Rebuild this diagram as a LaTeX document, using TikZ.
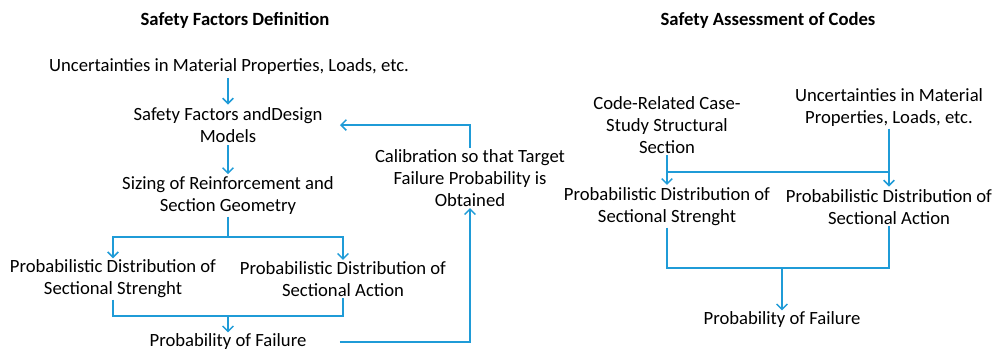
\documentclass[tikz,border=0pt]{standalone}
\usepackage{fontspec}
\setmainfont{Carlito}
\usetikzlibrary{arrows.meta}
\definecolor{FlowBlue}{HTML}{1F9BD7}
\begin{document}
\begin{tikzpicture}[x=0.75pt,y=-0.75pt,>={Straight Barb[length=4pt,width=8pt]}]
  \tikzstyle{txt}=[align=center,inner sep=1pt,font=\fontsize{14}{16.5}\selectfont]
  \tikzstyle{ttl}=[font=\bfseries\fontsize{14}{16}\selectfont]
  \tikzstyle{flow}=[draw=FlowBlue,line width=1.1pt]
  \useasboundingbox (0,0) rectangle (993,351);
  % left part: safety factors definition
  \node[ttl] (ttlA) at (235,20) {Safety Factors Definition};
  \node[txt] (uncA) at (229,67) {Uncertainties in Material Properties, Loads, etc.};
  \node[txt] (sfm) at (228,125) {Safety Factors andDesign\\Models};
  \node[txt] (siz) at (228,196) {Sizing of Reinforcement and\\Section Geometry};
  \node[txt] (strA) at (113,279) {Probabilistic Distribution of\\Sectional Strenght};
  \node[txt] (actA) at (343,279) {Probabilistic Distribution of\\Sectional Action};
  \node[txt] (pfA) at (228,342) {Probability of Failure};
  \node[txt] (cal) at (470,178) {Calibration so that Target\\Failure Probability is\\Obtained};
  \coordinate (splitA) at (228,237);
  \coordinate (joinA) at (228,316);
  \draw[flow,->,shorten <=1pt,shorten >=1pt] (sfm.north |- uncA.south) -- (sfm.north);
  \draw[flow,->,shorten <=1pt,shorten >=1pt] (sfm) -- (siz);
  \draw[flow] (siz) -- (splitA);
  \draw[flow,->] (splitA) -| (strA);
  \draw[flow,->] (splitA) -| (actA);
  \draw[flow] (strA) |- (joinA) -| (actA);
  \draw[flow,->] (joinA) -- (pfA);
  \draw[flow,->,shorten <=24pt] (pfA) -| (cal);
  \draw[flow,->,shorten >=12pt] (cal) |- (sfm);
  % right part: safety assessment of codes
  \node[ttl] (ttlB) at (768,20) {Safety Assessment of Codes};
  \node[txt] (code) at (667,125) {Code-Related Case-\\Study Structural\\Section};
  \node[txt] (uncB) at (889,108) {Uncertainties in Material\\Properties, Loads, etc.};
  \node[txt] (strB) at (667,207) {Probabilistic Distribution of\\Sectional Strenght};
  \node[txt] (actB) at (889,207) {Probabilistic Distribution of\\Sectional Action};
  \node[txt] (pfB) at (782,320) {Probability of Failure};
  \coordinate (joinB) at (782,268);
  \draw[flow,->,shorten >=1pt] (code) -- (strB);
  \draw[flow,->,shorten >=1pt] (uncB) -- (actB);
  \draw[flow] ([yshift=-12.5pt]code.south) -- ([yshift=-12.5pt]code.south -| uncB.south);
  \draw[flow] (strB) |- (joinB) -| (actB);
  \draw[flow,->] (joinB) -- (pfB);
\end{tikzpicture}
\end{document}
